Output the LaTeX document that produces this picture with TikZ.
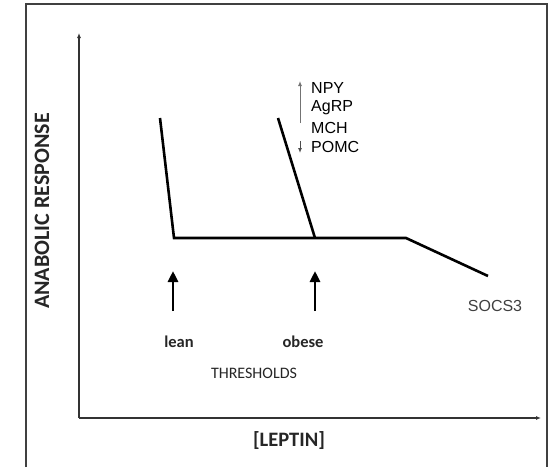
\documentclass[tikz,border=0pt]{standalone}
\usepackage{fontspec}
\setmainfont{Carlito}
\newfontfamily\arialfont{Liberation Sans}
\usetikzlibrary{arrows.meta,positioning}

\begin{document}
\begin{tikzpicture}[x=1pt,y=-1pt,
    curve/.style={line width=2.6pt, line join=miter},
    axis/.style={line width=1.4pt, draw=black!80, -{Latex[length=5pt,width=4pt]}},
    threshold/.style={line width=2.8pt, -{Triangle[length=11pt,width=10pt]}},
    label/.style={font=\fontsize{15}{17}\selectfont, text=black!85},
    gene/.style={font=\arialfont\fontsize{16}{18}\selectfont, anchor=west, inner sep=0pt}
]
    \useasboundingbox (0,0) rectangle (559,467);

    % Frame
    \draw[line width=1.3pt, black!75] (26,467) -- (26,4) -- (547,4) -- (547,467);

    % Axes
    \coordinate (origin) at (79,418);
    \coordinate (ytop) at (79,33);
    \coordinate (xend) at (541,418);
    \draw[axis] (origin) -- (ytop);
    \draw[axis] (origin) -- (xend);

    % Response curve
    \coordinate (leantop) at (160,118);
    \coordinate (leanknee) at (174,238);
    \coordinate (obesetop) at (278,118);
    \coordinate (obeseknee) at (315,238);
    \coordinate (plateau) at (406,238);
    \coordinate (socsend) at (488,276);
    \draw[curve] (leantop) -- (leanknee) -- (plateau) -- (socsend);
    \draw[curve] (obesetop) -- (obeseknee);

    % Neuropeptides
    \node[gene] (npy) at (311,88) {NPY};
    \node[gene] (agrp) at (311,108) {AgRP};
    \node[gene] (mch) at (311,128) {MCH};
    \node[gene] (pomc) at (311,147) {POMC};
    \coordinate (upbase) at (300,123);
    \coordinate (uptip) at (300,81);
    \coordinate (downbase) at (300,141);
    \coordinate (downtip) at (300,153);
    \draw[line width=1pt, black!55, -{Latex[length=5pt,width=4pt]}] (upbase) -- (uptip);
    \draw[line width=1pt, black!70, -{Latex[length=5pt,width=4pt]}] (downbase) -- (downtip);

    % Thresholds
    \coordinate (leanbase) at (173,311);
    \coordinate (leantip) at (173,271);
    \coordinate (obesebase) at (315,311);
    \coordinate (obesetip) at (315,271);
    \draw[threshold] (leanbase) -- (leantip);
    \draw[threshold] (obesebase) -- (obesetip);
    \node[label, font=\bfseries\fontsize{16.5}{18}\selectfont] (lean) at (179,342) {lean};
    \node[label, font=\bfseries\fontsize{16.5}{18}\selectfont] (obese) at (303,342) {obese};
    \node[label, font=\fontsize{16}{18}\selectfont] (thresholds) at (254,373) {THRESHOLDS};

    % SOCS3
    \node[gene, anchor=center, text=black!75] (socs) at (495,306) {SOCS3};

    % Axis labels
    \node[label, font=\bfseries\fontsize{20.5}{22}\selectfont] (leptin) at (289,441) {[LEPTIN]};
    \node[label, rotate=90, font=\bfseries\fontsize{22}{24}\selectfont] (response) at (42,211) {ANABOLIC RESPONSE};
\end{tikzpicture}
\end{document}
